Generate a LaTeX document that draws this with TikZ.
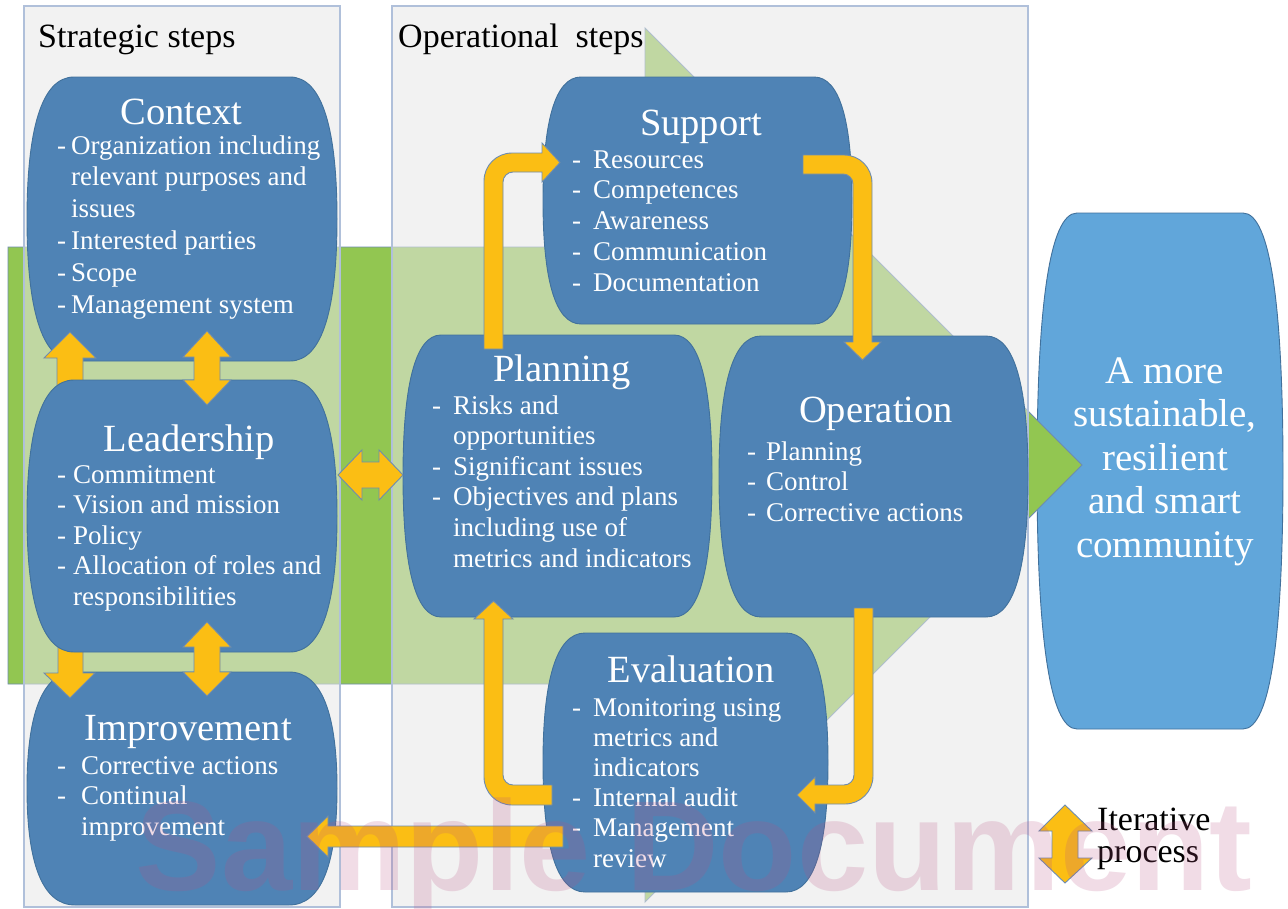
\documentclass[tikz,border=0pt]{standalone}
\usepackage{fontspec}
\setmainfont{Liberation Serif}
\newfontfamily\wmfont{Liberation Sans}
\newcommand\fsz[2]{\fontsize{#1bp}{#2bp}\selectfont}
\newcommand\bl[2]{\makebox[#1bp][l]{-}#2}
\newcommand\cl[2]{\hspace*{#1bp}#2}
\definecolor{nblue}{RGB}{79,131,181}
\definecolor{nbord}{RGB}{65,113,156}
\definecolor{cblue}{RGB}{97,166,218}
\definecolor{yel}{RGB}{251,190,20}
\definecolor{yelbd}{RGB}{110,140,176}
\definecolor{grn}{RGB}{146,198,81}
\definecolor{grnbd}{RGB}{110,140,176}
\definecolor{pnl}{RGB}{231,231,231}
\definecolor{pnlbd}{RGB}{176,192,218}
\definecolor{wm}{RGB}{185,80,130}
% barrel shape: x1 y1 x2 y2 a style
\newcommand\barrel[6]{%
  \pgfmathsetmacro\bym{(#2+#4)/2}%
  \pgfmathsetmacro\bk{(#4-#2)*0.19}%
  \pgfmathsetmacro\bc{0.3*#5}%
  \filldraw[#6] ({#1+#5},#2) -- ({#3-#5},#2)
    .. controls ({#3-\bc},#2) and (#3,{#2+\bk}) .. (#3,\bym)
    .. controls (#3,{#4-\bk}) and ({#3-\bc},#4) .. ({#3-#5},#4)
    -- ({#1+#5},#4)
    .. controls ({#1+\bc},#4) and (#1,{#4-\bk}) .. (#1,\bym)
    .. controls (#1,{#2+\bk}) and ({#1+\bc},#2) .. cycle;}
\begin{document}
\begin{tikzpicture}[x=1bp,y=-1bp,
  blk/.style={fill=nblue,draw=nbord,line width=0.9bp},
  cblk/.style={fill=cblue,draw=nbord,line width=0.9bp},
  yarrow/.style={fill=yel,draw=yelbd,line width=0.9bp,line join=miter},
  ttl/.style={anchor=base,inner sep=0,text=white,font=\fsz{38.5}{40}},
  lst/.style={anchor=base west,inner sep=0,text=white},
  hdr/.style={anchor=base west,inner sep=0,text=black,font=\fsz{34}{36}}]
\useasboundingbox (0,0) rectangle (1288,909);
\fill[white] (0,0) rectangle (1288,909);

% goal node (under the arrow tip)
\barrel{1037}{213}{1283}{729}{40}{cblk}
\coordinate (community) at (1160,471);

% big green arrow
\filldraw[fill=grn,draw=grnbd,line width=0.9bp]
  (8,247) -- (645,247) -- (645,28) -- (1082,465) -- (645,902) -- (645,684) -- (8,684) -- cycle;

% panels
\fill[pnl,fill opacity=0.54] (24,6) rectangle (340,907);
\fill[pnl,fill opacity=0.54] (392,6) rectangle (1028,907);
\draw[pnlbd,line width=1.3bp] (24,6) rectangle (340,907);
\draw[pnlbd,line width=1.3bp] (392,6) rectangle (1028,907);
\node[hdr] (hstrat) at (38,47) {Strategic steps};
\node[hdr] (hoper) at (398,47) {Operational\ \ steps};

% strategic column
\barrel{27}{77}{337}{361}{47}{blk}
\coordinate (context) at (182,219);
\barrel{27}{672}{337}{905}{48}{blk}
\coordinate (improvement) at (182,788);
\draw[yarrow] (70,332) -- (96,358) -- (83,358) -- (83,392) -- (57,392) -- (57,358) -- (44,358) -- cycle;
\draw[yarrow] (58,640) -- (83,640) -- (83,673) -- (95,673) -- (70,698) -- (44,673) -- (58,673) -- cycle;
\barrel{27}{380}{337}{652}{47}{blk}
\coordinate (leadership) at (182,516);
\draw[yarrow] (207,331) -- (231,357) -- (220,357) -- (220,380) -- (231,380) -- (207,405) -- (183,380) -- (194,380) -- (194,357) -- (183,357) -- cycle;
\draw[yarrow] (207,622) -- (231,647) -- (220,647) -- (220,672) -- (231,672) -- (207,696) -- (183,672) -- (194,672) -- (194,647) -- (183,647) -- cycle;

% operational column
\barrel{543}{77}{852}{324}{38}{blk}
\coordinate (support) at (697,200);
\barrel{403}{335}{712}{617}{38}{blk}
\coordinate (planning) at (557,476);
\barrel{719}{336}{1028}{617}{42}{blk}
\coordinate (operation) at (873,476);
\barrel{543}{633}{828}{892}{42}{blk}
\coordinate (evaluation) at (685,762);

% elbow arrows
\draw[yarrow] (484,349) -- (484,181) .. controls (484,165.5) and (496.5,153) .. (512,153) -- (542,153) -- (542,143) -- (560,162.5) -- (542,182) -- (542,172) -- (513,172) .. controls (507.5,172) and (503,176.5) .. (503,182) -- (503,349) -- cycle;
\draw[yarrow] (803,155) -- (844,155) .. controls (859.5,155) and (872,167.5) .. (872,183) -- (872,342) -- (881,342) -- (862.5,360) -- (844,342) -- (853,342) -- (853,184) .. controls (853,178.5) and (848.5,174) .. (843,174) -- (803,174) -- cycle;
\draw[yarrow] (854,608) -- (873,608) -- (873,776) .. controls (873,791.5) and (860.5,804) .. (845,804) -- (815,804) -- (815,813) -- (797,795) -- (815,777) -- (815,785) -- (844,785) .. controls (849.5,785) and (854,780.5) .. (854,775) -- cycle;
\draw[yarrow] (552,785) -- (552,805) -- (512,805) .. controls (496.5,805) and (484,792.5) .. (484,777) -- (484,619) -- (474,619) -- (493.5,601) -- (513,619) -- (503,619) -- (503,775) .. controls (503,780.5) and (507.5,785) .. (513,785) -- cycle;
\draw[yarrow] (563,826) -- (328,826) -- (328,816) -- (307,836.5) -- (328,857) -- (328,847) -- (563,847) -- cycle;
\draw[yarrow] (338,475) -- (362,450) -- (362,462) -- (379,462) -- (379,450) -- (403,475) -- (379,500) -- (379,488) -- (362,488) -- (362,500) -- cycle;

% node texts
\node[ttl] (tcontext) at (181.5,124) {Context};
\node[lst,font=\fsz{27}{31.8}] (lcontext) at (57,154) {\parbox[t]{400bp}{\raggedright
  \bl{14}{Organization including}\\ \cl{14}{relevant purposes and}\\ \cl{14}{issues}\\
  \bl{14}{Interested parties}\\ \bl{14}{Scope}\\ \bl{14}{Management system}}};
\node[ttl] (tleadership) at (189,451) {Leadership};
\node[lst,font=\fsz{27}{30.5}] (lleadership) at (57,483) {\parbox[t]{400bp}{\raggedright
  \bl{16}{Commitment}\\ \bl{16}{Vision and mission}\\ \bl{16}{Policy}\\
  \bl{16}{Allocation of roles and}\\ \cl{16}{responsibilities}}};
\node[ttl] (timprovement) at (188,740) {Improvement};
\node[lst,font=\fsz{27}{30.5}] (limprovement) at (57,774) {\parbox[t]{400bp}{\raggedright
  \bl{24}{Corrective actions}\\ \bl{24}{Continual}\\ \cl{24}{improvement}}};
\node[ttl] (tsupport) at (701,135) {Support};
\node[lst,font=\fsz{27}{30.8}] (lsupport) at (572,168) {\parbox[t]{400bp}{\raggedright
  \bl{21}{Resources}\\ \bl{21}{Competences}\\ \bl{21}{Awareness}\\
  \bl{21}{Communication}\\ \bl{21}{Documentation}}};
\node[ttl] (tplanning) at (562,381) {Planning};
\node[lst,font=\fsz{27}{30.6}] (lplanning) at (432,414) {\parbox[t]{400bp}{\raggedright
  \bl{21}{Risks and}\\ \cl{21}{opportunities}\\ \bl{21}{Significant issues}\\
  \bl{21}{Objectives and plans}\\ \cl{21}{including use of}\\ \cl{21}{metrics and indicators}}};
\node[ttl] (toperation) at (876,422) {Operation};
\node[lst,font=\fsz{27}{30.5}] (loperation) at (747,460) {\parbox[t]{400bp}{\raggedright
  \bl{19}{Planning}\\ \bl{19}{Control}\\ \bl{19}{Corrective actions}}};
\node[ttl] (tevaluation) at (691,682) {Evaluation};
\node[lst,font=\fsz{27}{30.2}] (levaluation) at (572,716) {\parbox[t]{400bp}{\raggedright
  \bl{21}{Monitoring using}\\ \cl{21}{metrics and}\\ \cl{21}{indicators}\\
  \bl{21}{Internal audit}\\ \bl{21}{Management}\\ \cl{21}{review}}};
\node[anchor=base,inner sep=0,text=white,font=\fsz{39}{43.6}] (tcommunity) at (1165,383)
  {\parbox[t]{300bp}{\centering A more\\ sustainable,\\ resilient\\ and smart\\ community}};

% legend
\draw[yarrow] (1065,805) -- (1092,831) -- (1078,831) -- (1078,858) -- (1092,858) -- (1065,883) -- (1039,858) -- (1052,858) -- (1052,831) -- (1039,831) -- cycle;
\node[anchor=base west,inner sep=0,font=\fsz{34}{32}] (legend) at (1097,830)
  {\parbox[t]{200bp}{\raggedright Iterative\\ process}};

% watermark
\node[anchor=base,inner sep=0,text=wm,text opacity=0.2,font=\wmfont\bfseries\fsz{128}{128}] (wmark) at (694,890) {Sample Document};
\end{tikzpicture}
\end{document}
